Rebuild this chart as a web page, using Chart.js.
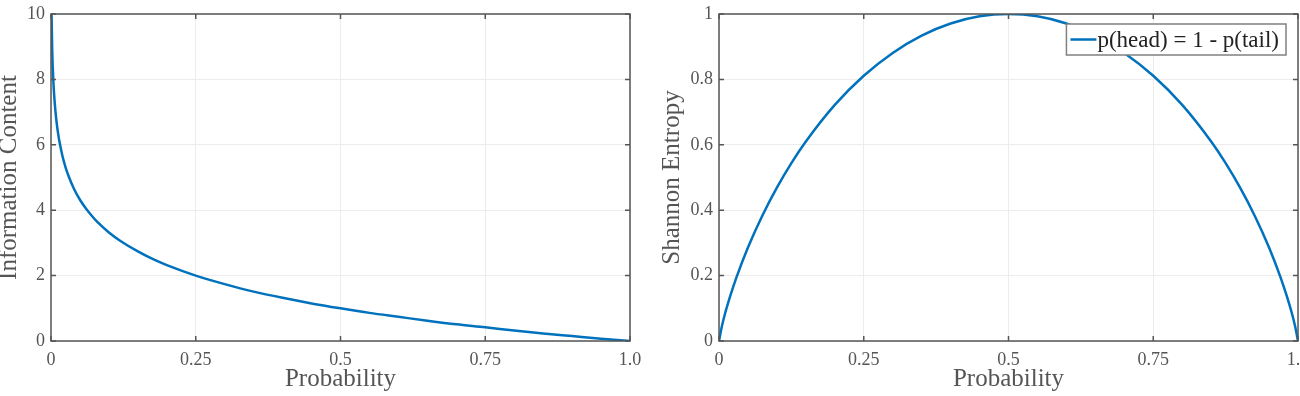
<!DOCTYPE html>
<html>
<head>
<meta charset="utf-8">
<script src="https://cdn.jsdelivr.net/npm/chart.js@4.4.0/dist/chart.umd.min.js"></script>
<style>
  html, body { margin: 0; padding: 0; background: #fff; }
  #wrap { position: relative; width: 1300px; height: 396px; overflow: hidden; }
  .box { position: absolute; top: 0; width: 650px; height: 396px; }
</style>
</head>
<body>
<div id="wrap">
  <div class="box" style="left:0"><canvas id="infoChart" width="650" height="396"></canvas></div>
  <div class="box" style="left:650px"><canvas id="entropyChart" width="650" height="396"></canvas></div>
</div>
<script>
// tick labels
const probTickLabels = ['0', '0.25', '0.5', '0.75', '1.0'];
const infoTickLabels = ['0', '2', '4', '6', '8', '10'];
const entropyTickLabels = ['0', '0.2', '0.4', '0.6', '0.8', '1'];
const legendLabel = 'p(head) = 1 - p(tail)';

// left plot: information content vs probability
const infoProb = [0.001, 0.002, 0.003, 0.004, 0.006, 0.008, 0.01, 0.0125, 0.015, 0.02, 0.025, 0.03,
  0.04, 0.05, 0.06, 0.07, 0.08, 0.1, 0.12, 0.15, 0.18, 0.2, 0.25, 0.3, 0.35, 0.4, 0.45, 0.5,
  0.55, 0.6, 0.65, 0.7, 0.75, 0.8, 0.85, 0.9, 0.95, 1.0];
const infoValues = [9.97, 8.97, 8.38, 7.97, 7.38, 6.97, 6.64, 6.32, 6.06, 5.64, 5.32, 5.06,
  4.64, 4.32, 4.06, 3.84, 3.64, 3.32, 3.06, 2.74, 2.47, 2.32, 2.0, 1.74, 1.51, 1.32, 1.15, 1.0,
  0.86, 0.74, 0.62, 0.51, 0.42, 0.32, 0.23, 0.15, 0.07, 0];

// right plot: shannon entropy vs probability
const entropyProb = [0, 0.005, 0.01, 0.02, 0.03, 0.05, 0.075, 0.1, 0.125, 0.15, 0.2, 0.25, 0.3,
  0.35, 0.4, 0.45, 0.5, 0.55, 0.6, 0.65, 0.7, 0.75, 0.8, 0.85, 0.875, 0.9, 0.925, 0.95, 0.97,
  0.98, 0.99, 0.995, 1];
const entropyValues = [0, 0.045, 0.081, 0.141, 0.194, 0.286, 0.384, 0.469, 0.544, 0.610, 0.722,
  0.811, 0.881, 0.934, 0.971, 0.993, 1.0, 0.993, 0.971, 0.934, 0.881, 0.811, 0.722, 0.610, 0.544,
  0.469, 0.384, 0.286, 0.194, 0.141, 0.081, 0.045, 0];

const lineBlue = '#0072BD';
const axisGray = '#555555';
const serif = "'Liberation Serif', 'DejaVu Serif', serif";

function toPoints(xs, ys) {
    return xs.map((x, i) => ({x: x, y: ys[i]}));
}

// matlab style box with inward ticks
const matlabBox = {
    id: 'matlabBox',
    afterDatasetsDraw(chart) {
        const ctx = chart.ctx;
        const a = chart.chartArea;
        const xs = chart.scales.x;
        const ys = chart.scales.y;
        const len = 5;
        ctx.save();
        ctx.strokeStyle = axisGray;
        ctx.lineWidth = 1.5;
        ctx.beginPath();
        xs.ticks.forEach((t) => {
            const px = xs.getPixelForValue(t.value);
            ctx.moveTo(px, a.bottom); ctx.lineTo(px, a.bottom - len);
            ctx.moveTo(px, a.top); ctx.lineTo(px, a.top + len);
        });
        ys.ticks.forEach((t) => {
            const py = ys.getPixelForValue(t.value);
            ctx.moveTo(a.left, py); ctx.lineTo(a.left + len, py);
            ctx.moveTo(a.right, py); ctx.lineTo(a.right - len, py);
        });
        ctx.stroke();
        ctx.strokeRect(a.left, a.top, a.right - a.left, a.bottom - a.top);
        ctx.restore();
    }
};

// legend box in the top right corner
const cornerLegend = {
    id: 'cornerLegend',
    afterDraw(chart, args, opts) {
        if (!opts.show) return;
        const ctx = chart.ctx;
        const a = chart.chartArea;
        const ds = chart.data.datasets[0];
        ctx.save();
        ctx.font = "23px " + serif;
        const tw = ctx.measureText(ds.label).width;
        const w = tw + 38;
        const h = 31;
        const left = a.right - 12 - w;
        const top = a.top + 10;
        ctx.fillStyle = '#fff';
        ctx.fillRect(left, top, w, h);
        ctx.strokeStyle = '#808080';
        ctx.lineWidth = 1.5;
        ctx.strokeRect(left, top, w, h);
        ctx.strokeStyle = ds.borderColor;
        ctx.lineWidth = 2.5;
        ctx.beginPath();
        ctx.moveTo(left + 4, top + h / 2);
        ctx.lineTo(left + 30, top + h / 2);
        ctx.stroke();
        ctx.fillStyle = '#222';
        ctx.textBaseline = 'middle';
        ctx.fillText(ds.label, left + 31, top + h / 2 + 1);
        ctx.restore();
    }
};

function makeChart(canvasId, points, label, yMax, yStep, yLabels, yTitle, yWidth, padLeft, padRight, showLegend) {
    return new Chart(document.getElementById(canvasId), {
        type: 'scatter',
        data: {
            datasets: [{
                label: label,
                data: points,
                showLine: true,
                borderColor: lineBlue,
                backgroundColor: lineBlue,
                borderWidth: 2.5,
                pointRadius: 0,
                cubicInterpolationMode: 'monotone'
            }]
        },
        options: {
            responsive: false,
            animation: false,
            layout: {padding: {top: 14, left: padLeft, right: padRight, bottom: 0}},
            plugins: {
                legend: {display: false},
                tooltip: {enabled: false},
                cornerLegend: {show: showLegend}
            },
            scales: {
                x: {
                    type: 'linear',
                    min: 0,
                    max: 1,
                    ticks: {
                        stepSize: 0.25,
                        padding: 8,
                        maxRotation: 0,
                        color: axisGray,
                        font: {family: serif, size: 18},
                        callback: (v, i) => probTickLabels[i]
                    },
                    grid: {color: '#ececec', drawTicks: false},
                    border: {display: false},
                    title: {
                        display: true,
                        text: 'Probability',
                        color: axisGray,
                        font: {family: serif, size: 25},
                        padding: {top: 0, bottom: 2}
                    },
                    afterFit: (scale) => {
                        scale.height = 55;
                        scale.paddingLeft = 0;
                        scale.paddingRight = 0;
                    }
                },
                y: {
                    min: 0,
                    max: yMax,
                    ticks: {
                        stepSize: yStep,
                        padding: 6,
                        color: axisGray,
                        font: {family: serif, size: 18},
                        callback: (v, i) => yLabels[i]
                    },
                    grid: {color: '#ececec', drawTicks: false},
                    border: {display: false},
                    title: {
                        display: true,
                        text: yTitle,
                        color: axisGray,
                        font: {family: serif, size: 25, lineHeight: 0.75},
                        padding: 0
                    },
                    afterFit: (scale) => {
                        scale.width = yWidth;
                        scale.paddingTop = 0;
                        scale.paddingBottom = 0;
                    }
                }
            }
        },
        plugins: [matlabBox, cornerLegend]
    });
}

makeChart('infoChart', toPoints(infoProb, infoValues), 'Information Content',
    10, 2, infoTickLabels, 'Information Content', 51, 0, 20, false);
makeChart('entropyChart', toPoints(entropyProb, entropyValues), legendLabel,
    1, 0.2, entropyTickLabels, 'Shannon Entropy', 56, 13, 2, true);
</script>
</body>
</html>
